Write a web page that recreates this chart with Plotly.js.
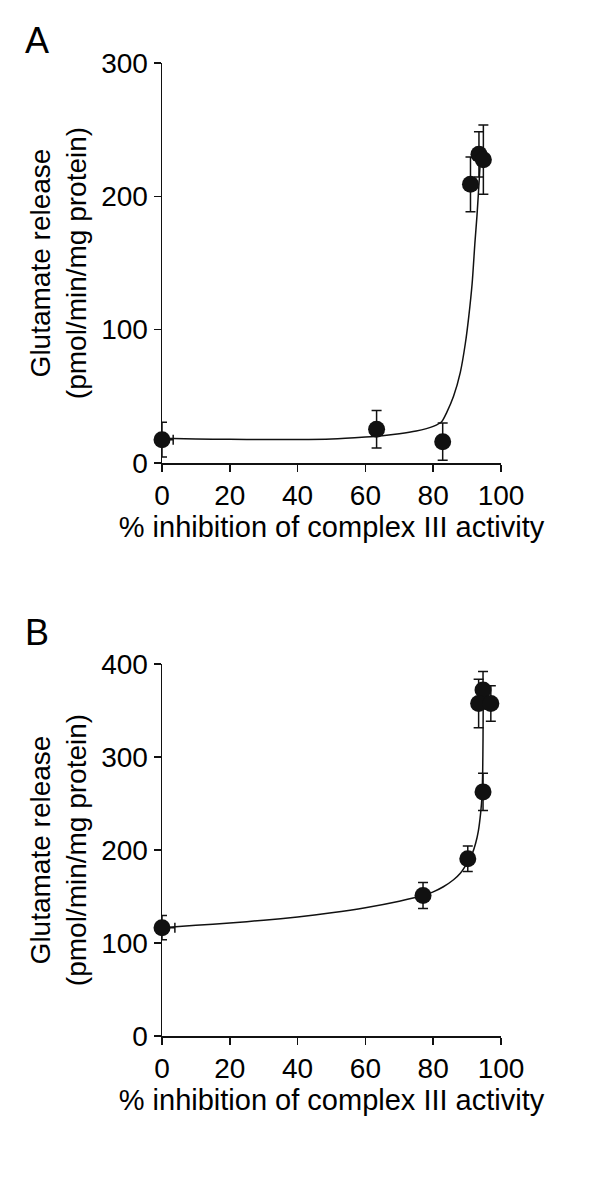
<!DOCTYPE html>
<html>
<head>
<meta charset="utf-8">
<script src="https://cdn.plot.ly/plotly-3.0.1.min.js"></script>
<style>html,body{margin:0;padding:0;background:#fff;}#chart{width:600px;height:1202px;}</style>
</head>
<body>
<div id="chart"></div>
<script>
// ---------- Panel A data ----------
const aX      = [0,    63.3, 82.8, 91.0,  93.5,  94.8];
const aY      = [17.5, 25.3, 16.0, 209.0, 231.5, 227.5];
const aErrY   = [13,   14,   14,   20.5,  17,    26];
const aErrX   = [3.3,  1.5,  0,    0,     0,     0];
const aCurveX = [0, 10, 20, 30, 40, 50, 60, 65, 70, 75, 78, 80, 82.5, 84, 86, 88, 89.5, 90.5, 91.5, 92.3, 92.9, 93.4, 93.8, 94.1];
const aCurveY = [18.5, 18, 17.8, 17.6, 17.6, 18, 19.5, 20.5, 22, 24, 25.8, 27.5, 31, 38, 50, 68, 90, 110, 135, 165, 185, 205, 222, 235];

// ---------- Panel B data ----------
const bX      = [0,     77.0,  90.2,  94.7,  94.7,  93.4,  97.0];
const bY      = [116.5, 151,   190.5, 262.5, 372,   357.5, 357.5];
const bErrY   = [13,    14,    13.7,  20,    20,    26,    19];
const bErrX   = [3.8,   0,     0,     0,     0,     0,     0];
const bCurveX = [0, 10, 20, 30, 40, 50, 60, 70, 77, 80, 83, 86, 88, 90, 91.5, 92.5, 93.3, 94, 94.4, 94.6, 94.7, 94.75];
const bCurveY = [116.5, 119, 121.5, 124.5, 128, 132.5, 138, 145, 151, 155, 160.5, 168, 175, 186, 196, 207, 220, 240, 258, 285, 320, 357];

// ---------- Text ----------
const xTitle = '% inhibition of complex III activity';
const yTitle = 'Glutamate release<br>(pmol/min/mg protein)';
const xTicks = [0, 20, 40, 60, 80, 100];
const aYTicks = [0, 100, 200, 300];
const bYTicks = [0, 100, 200, 300, 400];

const INK = '#111';
const FONT = 'Liberation Sans, Arial, sans-serif';

function curve(x, y, xa, ya) {
  return {x: x, y: y, xaxis: xa, yaxis: ya, mode: 'lines', type: 'scatter',
          line: {color: INK, width: 1.5, shape: 'spline', smoothing: 0.6},
          hoverinfo: 'skip', showlegend: false, cliponaxis: false};
}
function pts(x, y, ey, ex, xa, ya) {
  return {x: x, y: y, xaxis: xa, yaxis: ya, mode: 'markers', type: 'scatter',
          marker: {color: INK, size: 17},
          error_y: {type: 'data', array: ey, visible: true, color: INK, thickness: 1.5, width: 5},
          error_x: {type: 'data', array: ex, visible: true, color: INK, thickness: 1.5, width: 5},
          showlegend: false, cliponaxis: false};
}

const data = [
  curve(aCurveX, aCurveY, 'x', 'y'),
  pts(aX, aY, aErrY, aErrX, 'x', 'y'),
  curve(bCurveX, bCurveY, 'x2', 'y2'),
  pts(bX, bY, bErrY, bErrX, 'x2', 'y2')
];

function xax(anchor) {
  return {domain: [162/600, 501/600], anchor: anchor, range: [0, 100], tickvals: xTicks,
          ticks: 'outside', ticklen: 7, tickwidth: 1.5, tickcolor: INK,
          showline: true, linewidth: 1.5, linecolor: INK, showgrid: false, zeroline: false,
          tickfont: {family: FONT, size: 28, color: '#000'},
          title: {text: xTitle, font: {family: FONT, size: 29, color: '#000'}, standoff: 6}};
}
function yax(anchor, dom, range, ticks) {
  return {domain: dom, anchor: anchor, range: range, tickvals: ticks,
          ticks: 'outside', ticklen: 7, tickwidth: 1.5, tickcolor: INK,
          showline: true, linewidth: 1.5, linecolor: INK, showgrid: false, zeroline: false,
          tickfont: {family: FONT, size: 28, color: '#000'},
          title: {text: yTitle, font: {family: FONT, size: 28, color: '#000'}, standoff: 6}};
}

const H = 1202;
const layout = {
  width: 600, height: 1202,
  margin: {l: 0, r: 0, t: 0, b: 0},
  paper_bgcolor: '#fff', plot_bgcolor: '#fff',
  font: {family: FONT, color: '#000'},
  xaxis: xax('y'),
  yaxis: yax('x', [(H-463)/H, (H-63)/H], [0, 300], aYTicks),
  xaxis2: xax('y2'),
  yaxis2: yax('x2', [(H-1036)/H, (H-664)/H], [0, 400], bYTicks),
  annotations: [
    {text: 'A', xref: 'paper', yref: 'paper', x: 37/600, y: (H-41)/H, xanchor: 'center', yanchor: 'middle',
     showarrow: false, font: {family: FONT, size: 36, color: '#000'}},
    {text: 'B', xref: 'paper', yref: 'paper', x: 37/600, y: (H-632)/H, xanchor: 'center', yanchor: 'middle',
     showarrow: false, font: {family: FONT, size: 36, color: '#000'}}
  ],
  showlegend: false
};

Plotly.newPlot('chart', data, layout, {displayModeBar: false, staticPlot: true});
</script>
</body>
</html>
